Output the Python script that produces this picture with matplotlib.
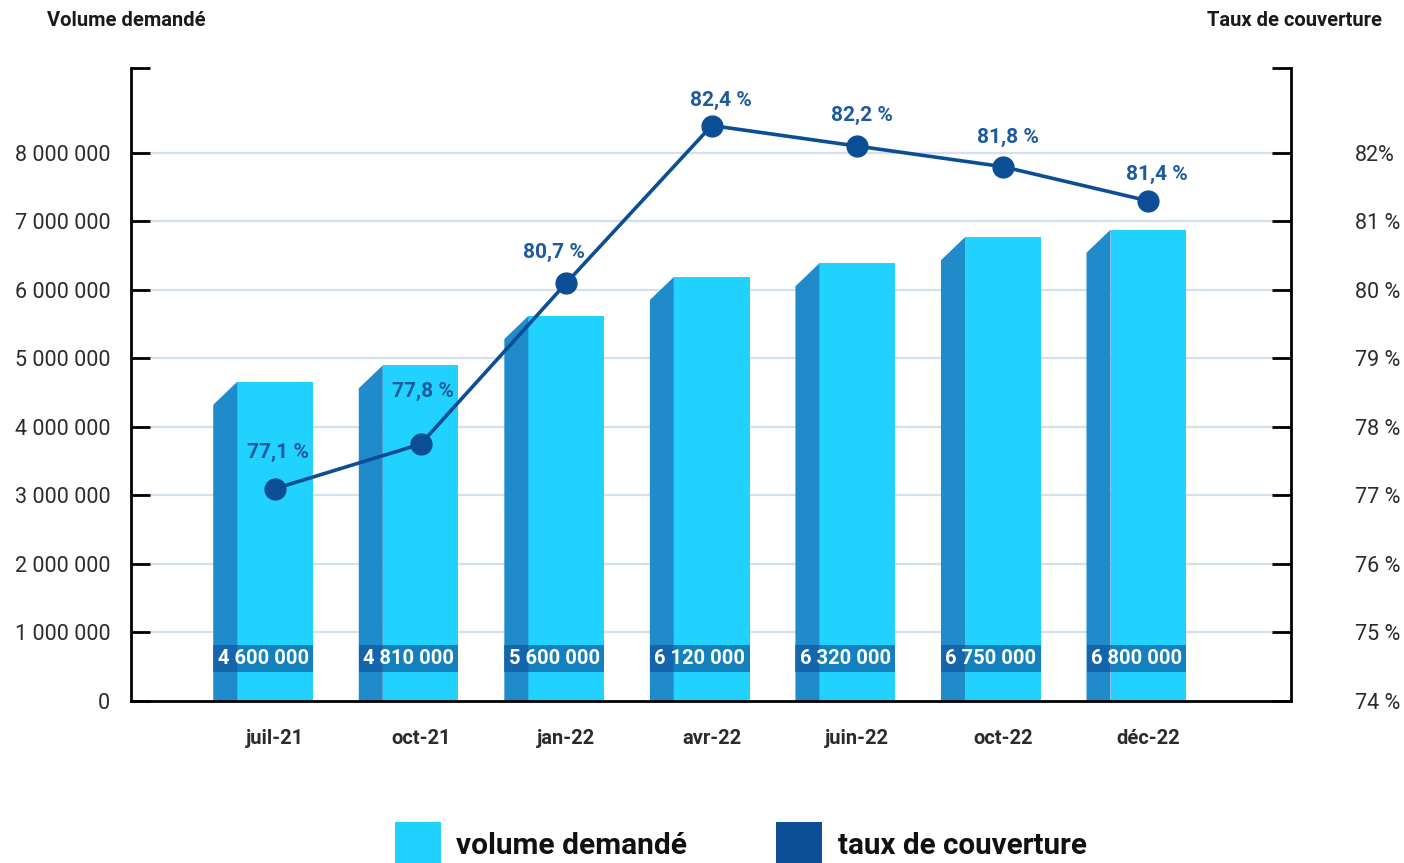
import matplotlib
matplotlib.use("Agg")
import matplotlib.pyplot as plt
from matplotlib.patches import Polygon, Rectangle

plt.rcParams['font.family'] = ['Roboto', 'DejaVu Sans']

categories = ["juil-21", "oct-21", "jan-22", "avr-22", "juin-22", "oct-22", "déc-22"]
# bar heights as drawn in the picture, and the printed values
volumes = [4660000, 4900000, 5620000, 6190000, 6390000, 6770000, 6880000]
volume_labels = ["4 600 000", "4 810 000", "5 600 000", "6 120 000", "6 320 000",
                 "6 750 000", "6 800 000"]
# point positions as drawn, and the printed rates
rates = [77.1, 77.75, 80.1, 82.4, 82.1, 81.8, 81.3]
rate_labels = ["77,1 %", "77,8 %", "80,7 %", "82,4 %", "82,2 %", "81,8 %", "81,4 %"]
left_ticks = [0, 1000000, 2000000, 3000000, 4000000, 5000000, 6000000, 7000000, 8000000]
left_ticklabels = ["0", "1 000 000", "2 000 000", "3 000 000", "4 000 000", "5 000 000",
                   "6 000 000", "7 000 000", "8 000 000"]
right_ticks = [74, 75, 76, 77, 78, 79, 80, 81, 82]
right_ticklabels = ["74 %", "75 %", "76 %", "77 %", "78 %", "79 %", "80 %", "81 %", "82%"]

# label offsets (points) for percentage annotations
label_dy = [19.5, 31, 15, 11, 15, 14, 12]
label_dx = [2, 1.5, -9, 6.5, 3, 4, 6]

FRONT = "#20D2FD"
SIDE = "#1F8BCB"
LINE = "#0C4E96"
LABEL = "#1D5A9E"
GRID = "#D3E0EE"
TXT = "#2b2b2b"

W, H = 1404, 863
fig = plt.figure(figsize=(W / 100, H / 100), dpi=100)
ax = fig.add_axes([131 / W, (H - 701) / H, 1160 / W, 633 / H])
ax2 = ax.twinx()

ymax = 9.24e6
ax.set_ylim(0, ymax)
ax.set_xlim(-0.99, 6.98)
ax2.set_ylim(74, 74 + ymax / 1e6)

ax.set_zorder(1)
ax2.set_zorder(2)
ax2.patch.set_visible(False)

bw = 0.52
sw = 0.165
dy = 0.336e6
x = list(range(len(categories)))

for yv in left_ticks[1:]:
    ax.axhline(yv, color=GRID, lw=1.6, zorder=0)

ax.bar(x, volumes, width=bw, color=FRONT, zorder=2)
for xi, v, lab in zip(x, volumes, volume_labels):
    xl = xi - bw / 2 - sw
    xr = xi - bw / 2
    ax.add_patch(Polygon([(xl, 0), (xr, 0), (xr, v), (xl, v - dy)], closed=True,
                         facecolor=SIDE, edgecolor="none", zorder=2))
    ax.add_patch(Rectangle((xl, 0.43e6), bw + sw, 0.39e6, facecolor="#0E4F9A",
                           alpha=0.62, edgecolor="none", zorder=3))
    ax.text((xl + xi + bw / 2) / 2, 0.625e6, lab, ha="center",
            va="center", color="white", fontsize=14.5, fontweight="bold", zorder=4)

ax2.plot(x, rates, color=LINE, lw=2.6, marker="o", ms=15, zorder=5)
for xi, r, lab, ddy, ddx in zip(x, rates, rate_labels, label_dy, label_dx):
    ax2.annotate(lab, (xi, r), xytext=(ddx, ddy), textcoords="offset points",
                 ha="center", va="bottom", color=LABEL, fontsize=15, fontweight="bold")

# spines
for a in (ax, ax2):
    a.spines["top"].set_visible(False)
ax.spines["left"].set_linewidth(2)
ax.spines["bottom"].set_linewidth(2)
ax2.spines["right"].set_linewidth(2)
ax.spines["right"].set_visible(False)
ax2.spines["left"].set_visible(False)
ax2.spines["bottom"].set_visible(False)

ax.set_yticks(left_ticks + [ymax])
ax.set_yticklabels(left_ticklabels + [""])
ax.tick_params(axis="y", direction="in", length=14, width=2, pad=15,
               labelsize=15.5, labelcolor=TXT)
ax2.set_yticks(right_ticks + [74 + ymax / 1e6])
ax2.set_yticklabels(right_ticklabels + [""])
ax2.tick_params(axis="y", direction="in", length=14, width=2, pad=46,
                labelsize=15.5, labelcolor=TXT)

ax.set_xticks(x)
ax.set_xticklabels(categories, fontweight="bold", fontsize=14.5, color=TXT)
ax.tick_params(axis="x", length=0, pad=20)

fig.text(47 / W, 1 - 20 / H, "Volume demandé", fontsize=14.5, fontweight="bold",
         color="#1a1a1a", ha="left", va="center")
fig.text(1382 / W, 1 - 20 / H, "Taux de couverture", fontsize=14.5, fontweight="bold",
         color="#1a1a1a", ha="right", va="center")

# legend
fig.patches.append(Rectangle((395 / W, 0), 46 / W, 41 / H, transform=fig.transFigure,
                             facecolor=FRONT, edgecolor="none"))
fig.text(456 / W, 1 - 846 / H, "volume demandé", fontsize=21.5, fontweight="bold",
         color="#111111", ha="left", va="center")
fig.patches.append(Rectangle((776 / W, 0), 46 / W, 41 / H, transform=fig.transFigure,
                             facecolor=LINE, edgecolor="none"))
fig.text(838 / W, 1 - 846 / H, "taux de couverture", fontsize=21.3, fontweight="bold",
         color="#111111", ha="left", va="center")

fig.savefig("out.png", dpi=100)
